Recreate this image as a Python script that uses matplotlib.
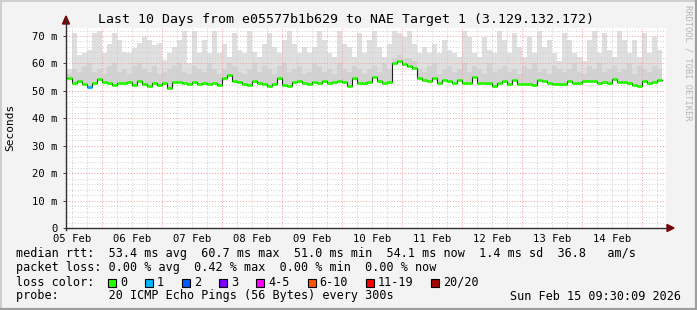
import matplotlib
matplotlib.use("Agg")
import matplotlib.pyplot as plt
from matplotlib.patches import Polygon, Rectangle
from matplotlib.lines import Line2D

# ---------------- data ----------------
bin_hours = 2
start_hour = 10          # first bin starts 05 Feb 10:00 (hours after 05 Feb 00:00)
end_hour = 249.5         # 15 Feb 09:30

median_ms = [54.6, 52.7, 53.6, 52.4, 51.3, 52.7, 54.3, 53.1, 52.7, 52.1,
             52.9, 52.7, 53.2, 52.3, 53.6, 52.4, 51.8, 52.9, 52.3, 52.9,
             51.0, 53.2, 53.2, 52.7, 52.4, 53.2, 52.4, 52.7, 52.4, 52.7,
             52.1, 54.6, 55.8, 53.6, 53.3, 52.4, 52.1, 53.6, 52.7, 52.4,
             51.8, 52.4, 54.6, 52.1, 51.7, 53.1, 53.6, 52.7, 52.4, 53.2,
             52.7, 53.6, 52.9, 53.2, 53.6, 53.1, 51.9, 54.6, 52.9, 52.7,
             53.4, 54.9, 53.6, 52.7, 53.2, 60.2, 60.7, 59.7, 59.0, 58.5,
             54.6, 53.9, 53.6, 54.6, 52.7, 54.1, 53.6, 52.7, 54.1, 52.9,
             52.7, 54.9, 52.7, 52.9, 52.9, 51.9, 52.9, 53.6, 52.4, 54.1,
             52.4, 52.4, 52.4, 52.3, 53.9, 53.6, 52.7, 52.4, 52.4, 52.4,
             53.6, 52.9, 52.9, 53.6, 53.6, 53.6, 52.9, 53.2, 52.7, 54.5,
             53.2, 53.2, 52.9, 52.2, 51.7, 53.6, 52.9, 53.4, 54.1]

loss_count = [0, 0, 0, 0, 1, 0, 0, 0, 0, 0] + [0] * 109

smoke_mid = [56, 58, 57, 59, 60, 57, 58, 56, 59, 60,
             57, 58, 56, 59, 60, 58, 57, 59, 56, 57,
             58, 59, 60, 57, 56, 59, 58, 57, 60, 58,
             56, 58, 60, 59, 57, 56, 58, 60, 57, 59,
             58, 56, 59, 60, 57, 58, 59, 56, 57, 60,
             59, 57, 58, 56, 60, 58, 57, 59, 58, 56,
             58, 59, 57, 60, 58, 62, 63, 62, 62, 61,
             58, 57, 59, 60, 56, 58, 59, 57, 58, 60,
             57, 59, 58, 56, 60, 57, 58, 59, 57, 58,
             56, 59, 58, 60, 57, 58, 56, 59, 58, 57,
             58, 60, 57, 56, 59, 58, 60, 57, 58, 59,
             57, 58, 60, 56, 59, 58, 57, 59, 58]

smoke_hi = [58, 71, 63, 63.7, 65, 71, 72, 63.7, 67, 71,
            68.5, 64, 63.7, 65.5, 67.3, 69.7, 68.5, 66.7, 67.3, 61.2,
            63.7, 66, 68.5, 72, 60, 72, 63.7, 68.5, 63.7, 72,
            63.7, 67, 62.5, 71, 65, 63.7, 72, 64, 62.5, 67,
            71, 66, 63.7, 68.5, 72, 67, 63.7, 66, 63.7, 66,
            72, 68.5, 63.7, 62.5, 72, 67, 66, 62.5, 71, 63.7,
            68.5, 72, 66, 62.5, 67, 72, 71, 69.7, 72, 67,
            63.7, 66, 63.7, 67, 63.7, 68.5, 65, 63.7, 62.5, 72,
            69.7, 63.7, 62.5, 69.7, 65, 63.7, 72, 68.5, 63.7, 71,
            66, 62.5, 69.7, 63.7, 72, 66, 68.5, 63.7, 61, 71,
            68.5, 63.7, 62.5, 61, 68.5, 72, 63.7, 71, 65, 62.5,
            72, 68.5, 63.7, 68.5, 62.5, 71, 63.7, 69.7, 65]

day_labels = ["05 Feb", "06 Feb", "07 Feb", "08 Feb", "09 Feb",
              "10 Feb", "11 Feb", "12 Feb", "13 Feb", "14 Feb"]
y_ticks = [0, 10, 20, 30, 40, 50, 60, 70]
y_tick_labels = ["0", "10 m", "20 m", "30 m", "40 m", "50 m", "60 m", "70 m"]

loss_labels = ["0", "1", "2", "3", "4-5", "6-10", "11-19", "20/20"]
loss_colors = ["#26ff00", "#00b8ff", "#0059ff", "#7e00ff", "#ff00ff",
               "#ff5500", "#ff0000", "#a10000"]

title = "Last 10 Days from e05577b1b629 to NAE Target 1 (3.129.132.172)"
line_rtt = "median rtt:  53.4 ms avg  60.7 ms max  51.0 ms min  54.1 ms now  1.4 ms sd  36.8   am/s"
line_loss = "packet loss: 0.00 % avg  0.42 % max  0.00 % min  0.00 % now"
line_probe = "probe:       20 ICMP Echo Pings (56 Bytes) every 300s"
stamp = "Sun Feb 15 09:30:09 2026"

# ---------------- figure ----------------
W, H = 697, 310
MONO = "DejaVu Sans Mono"
fig = plt.figure(figsize=(W / 100, H / 100), dpi=100, facecolor="#f3f3f3")


def fx(px):
    return px / W


def fy(py):
    return 1 - py / H


# border shading
fig.add_artist(Line2D([fx(0), fx(697)], [fy(0.5), fy(0.5)], color="#cfcfcf", lw=1.4))
fig.add_artist(Line2D([fx(0.5), fx(0.5)], [fy(0), fy(310)], color="#cfcfcf", lw=1.4))
fig.add_artist(Line2D([fx(0), fx(697)], [fy(309), fy(309)], color="#9e9e9e", lw=1.6))
fig.add_artist(Line2D([fx(696), fx(696)], [fy(0), fy(310)], color="#9e9e9e", lw=1.6))

px_left, px_right, px_bottom = 66, 666, 228
ymax = 73.0
px_top = px_bottom - ymax * 2.743
ax = fig.add_axes([fx(px_left), fy(px_bottom), (px_right - px_left) / W,
                   (px_bottom - px_top) / H])
ax.set_facecolor("white")
ax.set_xlim(end_hour - 240, end_hour)
ax.set_ylim(0, ymax)
for s in ax.spines.values():
    s.set_visible(False)

n = len(median_ms)
edges = [start_hour + bin_hours * i for i in range(n + 1)]
med_ext = median_ms + [median_ms[-1]]
mid_ext = smoke_mid + [smoke_mid[-1]]
hi_ext = smoke_hi + [smoke_hi[-1]]

# smoke
ax.fill_between(edges, med_ext, hi_ext, step="post", color="#dfdfdf", lw=0, zorder=1)
ax.fill_between(edges, med_ext, mid_ext, step="post", color="#d2d2d2", lw=0, zorder=1.1)

# grid
minor_x = [h for h in range(0, 252, 6) if h % 24 != 0]
major_x = [h for h in range(24, 252, 24)]
for h in minor_x:
    if ax.get_xlim()[0] < h < ax.get_xlim()[1]:
        ax.axvline(h, color="#cfcfcf", lw=0.72, dashes=(1, 1.8), zorder=2)
for v in range(2, 74, 2):
    if v % 10:
        ax.axhline(v, color="#cfcfcf", lw=0.72, dashes=(1, 1.8), zorder=2)
for h in major_x:
    ax.axvline(h, color="#f4a0a0", lw=0.72, dashes=(1, 1.8), zorder=2.1)
for v in y_ticks[1:]:
    ax.axhline(v, color="#f4a0a0", lw=0.72, dashes=(1, 1.8), zorder=2.1)

# median line
ax.step(edges, med_ext, where="post", color="#202020", lw=0.8, zorder=3)
color_for = {0: loss_colors[0], 1: loss_colors[1], 2: loss_colors[2], 3: loss_colors[3]}
for i in range(n):
    c = color_for.get(loss_count[i], loss_colors[4])
    ax.hlines(median_ms[i], edges[i], edges[i + 1], color=c, lw=2.0, zorder=4)

# ticks
ax.set_yticks(y_ticks)
ax.set_yticklabels(y_tick_labels, fontfamily=MONO, fontsize=7.6)
ax.set_xticks([12 + 24 * k for k in range(len(day_labels))])
ax.set_xticklabels(day_labels, fontfamily=MONO, fontsize=7.6)
ax.tick_params(axis="y", length=2.5, width=0.7, pad=3.5, color="#404040")
ax.tick_params(axis="x", length=0, pad=4.0)

# axis lines with arrows
fig.add_artist(Line2D([fx(px_left), fx(669)], [fy(px_bottom), fy(px_bottom)],
                      color="#303030", lw=1.0))
fig.add_artist(Line2D([fx(px_left), fx(px_left)], [fy(px_bottom + 2), fy(19)],
                      color="#303030", lw=1.0))
fig.add_artist(Polygon([[fx(667), fy(224.5)], [fx(674), fy(228)], [fx(667), fy(231.5)]],
                       closed=True, color="#800000", transform=fig.transFigure))
fig.add_artist(Polygon([[fx(62.5), fy(24)], [fx(66), fy(16)], [fx(69.5), fy(24)]],
                       closed=True, color="#800000", transform=fig.transFigure))

# texts
fig.text(fx(346.5), fy(19), title, fontfamily=MONO, fontsize=9.5, ha="center", va="center")
fig.text(fx(10), fy(127), "Seconds", fontfamily=MONO, fontsize=8, rotation=90,
         ha="center", va="center")
fig.text(fx(688), fy(5), "RRDTOOL / TOBI OETIKER", fontfamily=MONO, fontsize=6.2,
         rotation=-90, ha="center", va="top", color="#b4b4b4")

fs_leg = 8.5
fig.text(fx(16), fy(254), line_rtt, fontfamily=MONO, fontsize=fs_leg, va="center")
fig.text(fx(16), fy(268), line_loss, fontfamily=MONO, fontsize=fs_leg, va="center")
fig.text(fx(16), fy(282), "loss color:", fontfamily=MONO, fontsize=fs_leg, va="center")
fig.text(fx(16), fy(296), line_probe, fontfamily=MONO, fontsize=fs_leg, va="center")
fig.text(fx(681), fy(296), stamp, fontfamily=MONO, fontsize=fs_leg, va="center", ha="right")

xb = 108.0
for lab, col in zip(loss_labels, loss_colors):
    fig.add_artist(Rectangle((fx(xb), fy(286.5)), 8 / W, 8 / H, facecolor=col,
                             edgecolor="black", lw=0.8, transform=fig.transFigure))
    fig.text(fx(xb + 12), fy(282), lab, fontfamily=MONO, fontsize=fs_leg, va="center")
    xb += 30 + 7.08 * len(lab)

fig.savefig("out.png", dpi=100, facecolor=fig.get_facecolor())
